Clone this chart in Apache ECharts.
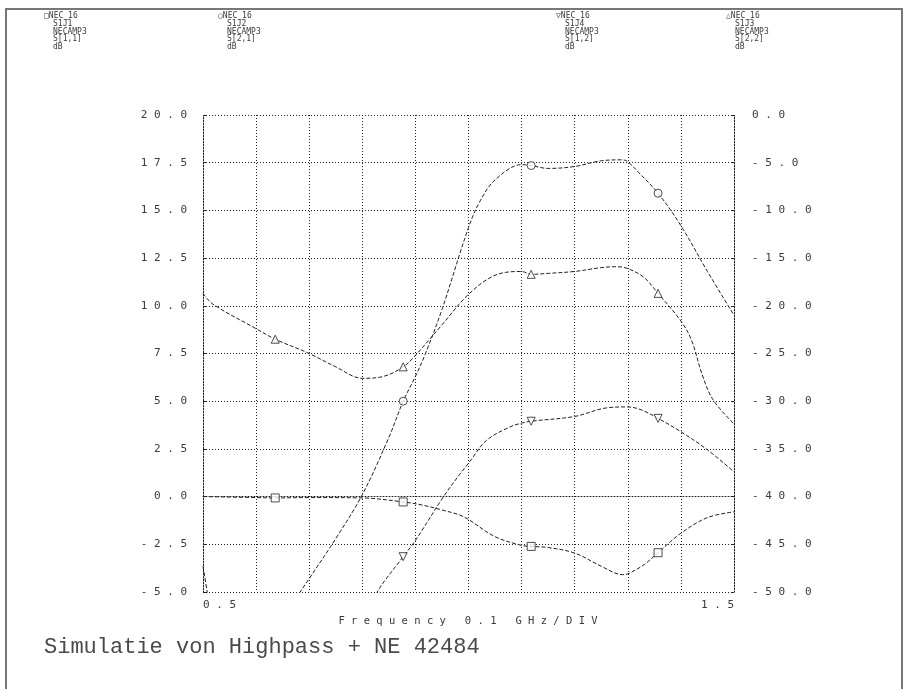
<!DOCTYPE html>
<html><head><meta charset="utf-8">
<script src="https://cdn.jsdelivr.net/npm/echarts@6/dist/echarts.min.js"></script>
<style>html,body{margin:0;padding:0;background:#fff}#c{width:906px;height:689px}</style>
</head><body><div id="c"></div>
<script>
// Tick labels
const xTickLabels = ['0.5', '1.5'];
const leftTicks = [-5, -2.5, 0, 2.5, 5, 7.5, 10, 12.5, 15, 17.5, 20];
const rightTicks = [-50, -45, -40, -35, -30, -25, -20, -15, -10, -5, 0];

// S[1,1] (left axis, dB) - square markers
const s11 = [[0.5,0.0],[0.6,-0.05],[0.636,-0.07],[0.7,-0.05],[0.8,-0.07],[0.877,-0.28],[0.914,-0.45],[0.95,-0.7],[0.983,-0.96],[1.0,-1.2],[1.05,-2.1],[1.1,-2.56],[1.118,-2.61],[1.15,-2.67],[1.2,-2.96],[1.25,-3.65],[1.29,-4.09],[1.3,-4.05],[1.33,-3.58],[1.357,-2.94],[1.4,-1.92],[1.45,-1.1],[1.5,-0.8]];
const s11Marks = [[0.636,-0.07],[0.877,-0.28],[1.118,-2.61],[1.357,-2.94]];

// S[2,1] (left axis, dB) - circle markers
const s21 = [[0.67,-5.6],[0.683,-5.0],[0.7,-4.3],[0.75,-2.2],[0.8,0.1],[0.85,3.1],[0.877,5.0],[0.9,6.3],[0.919,7.5],[0.95,9.8],[1.0,14.1],[1.022,15.5],[1.05,16.6],[1.1,17.4],[1.118,17.35],[1.15,17.2],[1.2,17.3],[1.25,17.6],[1.29,17.65],[1.3,17.55],[1.32,17.0],[1.357,15.9],[1.4,14.2],[1.45,11.8],[1.5,9.5]];
const s21Marks = [[0.877,5.0],[1.118,17.35],[1.357,15.9]];

// S[1,2] (right axis, dB) - down-triangle markers
const s12 = [[0.5,-47.3],[0.508,-50.0],[0.515,-52.0],[0.66,'-'],[0.815,-52.0],[0.828,-50.0],[0.877,-46.3],[0.9,-44.6],[0.953,-40.0],[0.983,-37.7],[1.0,-36.5],[1.034,-34.1],[1.078,-32.7],[1.1,-32.3],[1.118,-32.1],[1.2,-31.6],[1.26,-30.7],[1.3,-30.6],[1.325,-30.9],[1.357,-31.8],[1.4,-33.2],[1.45,-35.1],[1.5,-37.4]];
const s12Marks = [[0.877,-46.3],[1.118,-32.1],[1.357,-31.8]];

// S[2,2] (right axis, dB) - up-triangle markers
const s22 = [[0.5,-18.7],[0.518,-19.8],[0.6,-22.4],[0.636,-23.5],[0.7,-25.0],[0.75,-26.4],[0.8,-27.6],[0.84,-27.4],[0.877,-26.4],[0.9,-25.2],[0.95,-22.0],[1.0,-18.8],[1.05,-16.8],[1.1,-16.4],[1.118,-16.7],[1.15,-16.6],[1.2,-16.4],[1.25,-16.0],[1.28,-15.9],[1.3,-16.1],[1.33,-17.0],[1.357,-18.7],[1.4,-21.6],[1.42,-23.6],[1.44,-27.2],[1.46,-29.8],[1.5,-32.4]];
const s22Marks = [[0.636,-23.5],[0.877,-26.4],[1.118,-16.7],[1.357,-18.7]];

const legends = [
  {sym:'\u25A1', lines:['NEC_16','S1J1','NECAMP3','S[1,1]','dB'], x:44},
  {sym:'\u25CB', lines:['NEC_16','S1J2','NECAMP3','S[2,1]','dB'], x:218},
  {sym:'\u25BD', lines:['NEC_16','S1J4','NECAMP3','S[1,2]','dB'], x:556},
  {sym:'\u25B3', lines:['NEC_16','S1J3','NECAMP3','S[2,2]','dB'], x:726}
];

const spaced = s => s.split('').join(' ');
const MONO = '"DejaVu Sans Mono", "Liberation Mono", monospace';
const INK = '#3a3a3a';

const chart = echarts.init(document.getElementById('c'), null, {renderer:'canvas'});

const graphics = [
  {type:'rect', shape:{x:6, y:9, width:896, height:700}, style:{fill:'none', stroke:'#777', lineWidth:2}, silent:true},
  {type:'text', x:468, y:621, style:{text:spaced('Frequency 0.1 GHz/DIV'), font:'10.5px ' + MONO, fill:INK, textAlign:'center', textVerticalAlign:'middle'}},
  {type:'text', x:44, y:647, style:{text:'Simulatie von Highpass + NE 42484', font:'22px "Liberation Mono", monospace', fill:'#4a4a4a', textAlign:'left', textVerticalAlign:'middle'}}
];
legends.forEach(l => {
  graphics.push({type:'text', x:l.x, y:16, style:{text:l.sym + l.lines[0], font:'8px ' + MONO, fill:INK, textVerticalAlign:'middle'}});
  graphics.push({type:'text', x:l.x + 9, y:20, style:{text:l.lines.slice(1).join('\n'), font:'8px ' + MONO, lineHeight:7.7, fill:INK, textVerticalAlign:'top'}});
});

const dotted = {color:'#222', width:1, type:[1,2]};
const lineStyle = {color:'#222', width:1, type:[4,2]};

function lineSeries(name, data, yIdx) {
  return {name, type:'line', data, yAxisIndex:yIdx, showSymbol:false, smooth:0.35, clip:true,
    lineStyle, connectNulls:false, silent:true, z:3};
}
function markSeries(name, data, yIdx, symbol, rot) {
  return {name:name + ' markers', type:'scatter', data, yAxisIndex:yIdx, symbol, symbolRotate:rot||0, symbolSize:8,
    itemStyle:{color:'#fff', borderColor:'#222', borderWidth:1}, z:4, silent:true};
}

chart.setOption({
  animation:false,
  backgroundColor:'#fff',
  grid:{left:203, top:115, width:531, height:477, containLabel:false},
  xAxis:{type:'value', min:0.5, max:1.5, interval:0.1,
    axisLine:{show:true, lineStyle:dotted}, axisTick:{show:false},
    splitLine:{show:true, lineStyle:dotted},
    axisLabel:{margin:8, color:INK, fontFamily:MONO, fontSize:11, alignMinLabel:'left', alignMaxLabel:'right',
      formatter:v => { const s = v.toFixed(1); return xTickLabels.includes(s) ? spaced(s) : ''; }}},
  yAxis:[
    {type:'value', position:'left', min:leftTicks[0], max:leftTicks[leftTicks.length-1], interval:2.5,
      axisLine:{show:true, lineStyle:dotted}, axisTick:{show:true, length:3, inside:true, lineStyle:{color:'#222'}},
      splitLine:{show:true, lineStyle:dotted},
      axisLabel:{margin:16, color:INK, fontFamily:MONO, fontSize:11, formatter:v => spaced(v.toFixed(1))}},
    {type:'value', position:'right', min:rightTicks[0], max:rightTicks[rightTicks.length-1], interval:5,
      axisLine:{show:true, lineStyle:dotted}, axisTick:{show:true, length:3, inside:true, lineStyle:{color:'#222'}},
      splitLine:{show:false},
      axisLabel:{margin:18, color:INK, fontFamily:MONO, fontSize:11, formatter:v => spaced(v.toFixed(1))}}
  ],
  graphic:graphics,
  series:[
    lineSeries('S[1,1]', s11, 0),
    lineSeries('S[2,1]', s21, 0),
    lineSeries('S[1,2]', s12, 1),
    lineSeries('S[2,2]', s22, 1),
    markSeries('S[1,1]', s11Marks, 0, 'rect'),
    markSeries('S[2,1]', s21Marks, 0, 'circle'),
    markSeries('S[1,2]', s12Marks, 1, 'triangle', 180),
    markSeries('S[2,2]', s22Marks, 1, 'triangle')
  ]
});
</script></body></html>
